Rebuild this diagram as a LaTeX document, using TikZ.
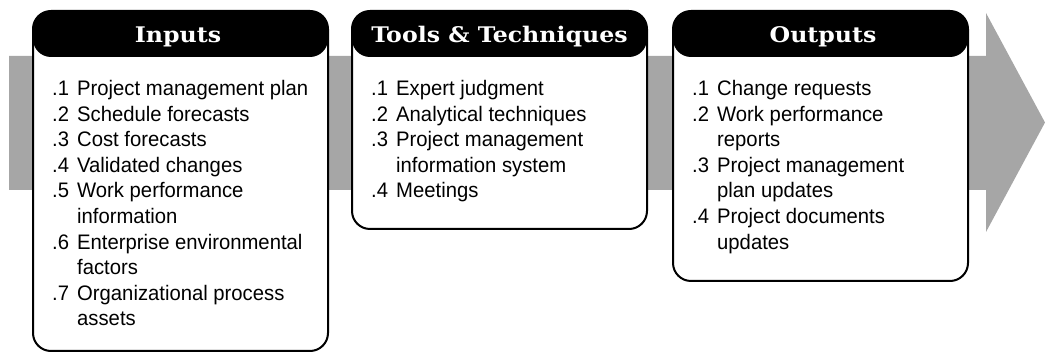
\documentclass[tikz,border=0pt]{standalone}
\usepackage{fontspec}
\setmainfont{Liberation Sans}[FakeStretch=0.965]
\newfontfamily\headfont{DejaVu Serif}[FakeStretch=1.1]
\definecolor{arrowgray}{RGB}{166,166,166}
\newcommand\numline[5]{% name, box left, line index, number, text
  \node[numtxt] (#1n) at ({#2+20},{-95.5-25.6*#3}) {#4};
  \node[itemtxt] (#1) at ({#2+45},{-95.5-25.6*#3}) {#5};}
\newcommand\contline[4]{% name, box left, line index, text
  \node[itemtxt] (#1) at ({#2+45},{-95.5-25.6*#3}) {#4};}
\begin{document}
\begin{tikzpicture}[x=1pt,y=1pt,
  box/.style={draw=black, line width=2pt, rounded corners=18pt, fill=white,
    anchor=north west, inner sep=0pt, minimum width=295pt,
    path picture={\fill[black] (path picture bounding box.north west) rectangle ([yshift=-46pt]path picture bounding box.north east);}},
  headtxt/.style={text=white, inner sep=0pt, anchor=base,
    font=\headfont\bfseries\fontsize{21.5}{24}\selectfont},
  numtxt/.style={inner sep=0pt, anchor=base west, font=\fontsize{21}{25.6}\selectfont},
  itemtxt/.style={inner sep=0pt, anchor=base west, font=\fontsize{21}{25.6}\selectfont}]
\useasboundingbox (0,0) rectangle (1045,-352);
% big gray arrow
\fill[arrowgray] (9,-56) -- (986,-56) -- (986,-13) -- (1045,-122.5) -- (986,-232) -- (986,-190) -- (9,-190) -- cycle;
% boxes
\node[box, minimum height=340pt] (inputs) at (32,-10) {};
\node[box, minimum height=218pt] (tools) at (351,-10) {};
\node[box, minimum height=270pt] (outputs) at (672,-10) {};
% headers
\node[headtxt] (inputsH) at (178,-43) {Inputs};
\node[headtxt] (toolsH) at (499.5,-43) {Tools \& Techniques};
\node[headtxt] (outputsH) at (823,-43) {Outputs};
% inputs list
\numline{i1}{32}{0}{.1}{Project management plan}
\numline{i2}{32}{1}{.2}{Schedule forecasts}
\numline{i3}{32}{2}{.3}{Cost forecasts}
\numline{i4}{32}{3}{.4}{Validated changes}
\numline{i5}{32}{4}{.5}{Work performance}
\contline{i5b}{32}{5}{information}
\numline{i6}{32}{6}{.6}{Enterprise environmental}
\contline{i6b}{32}{7}{factors}
\numline{i7}{32}{8}{.7}{Organizational process}
\contline{i7b}{32}{9}{assets}
% tools list
\numline{t1}{351}{0}{.1}{Expert judgment}
\numline{t2}{351}{1}{.2}{Analytical techniques}
\numline{t3}{351}{2}{.3}{Project management}
\contline{t3b}{351}{3}{information system}
\numline{t4}{351}{4}{.4}{Meetings}
% outputs list
\numline{o1}{672}{0}{.1}{Change requests}
\numline{o2}{672}{1}{.2}{Work performance}
\contline{o2b}{672}{2}{reports}
\numline{o3}{672}{3}{.3}{Project management}
\contline{o3b}{672}{4}{plan updates}
\numline{o4}{672}{5}{.4}{Project documents}
\contline{o4b}{672}{6}{updates}
\end{tikzpicture}
\end{document}
